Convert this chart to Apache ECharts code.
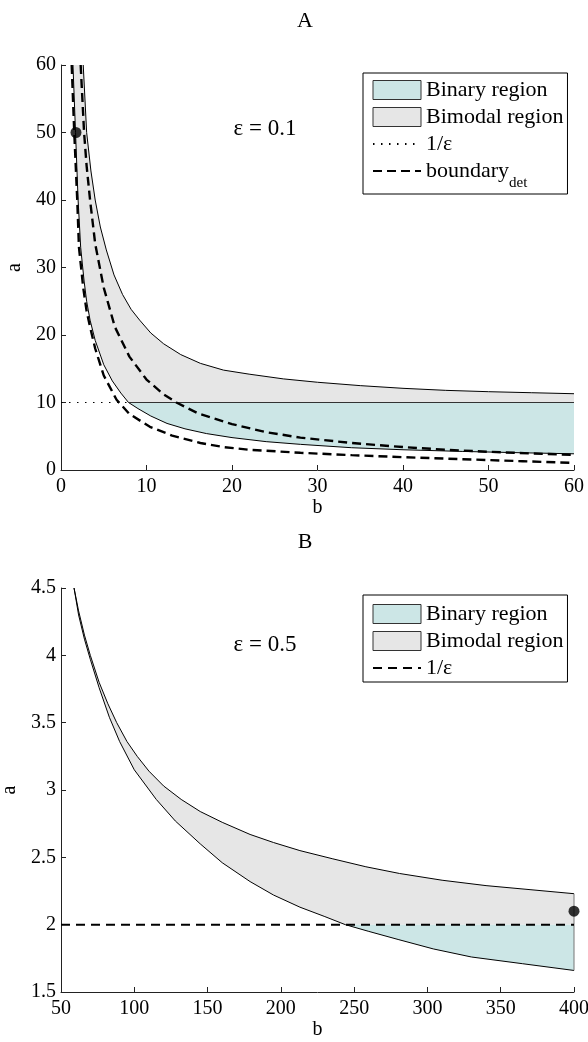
<!DOCTYPE html>
<html>
<head>
<meta charset="utf-8">
<title>Binary and bimodal regions</title>
<script src="https://cdn.jsdelivr.net/npm/echarts@6/dist/echarts.min.js"></script>
<style>
  html, body { margin: 0; padding: 0; background: #fff; }
  #chart { width: 588px; height: 1042px; }
</style>
</head>
<body>
<div id="chart"></div>
<script>
// ---- panel A : eps = 0.1 ----
// upper edge of the bimodal region
const bUpperA = [2.6, 3.0, 3.5, 4.0, 4.6, 5.3, 6.2, 7.2, 8.2, 9.2, 10.5, 12, 14, 16.3, 19, 22, 26, 30, 35, 40, 45, 50, 55, 60]
const aUpperA = [60, 50, 44.3, 40, 36, 32.6, 28.9, 26, 23.8, 22.2, 20.3, 18.7, 17.1, 15.8, 14.8, 14.2, 13.5, 13.0, 12.5, 12.1, 11.8, 11.6, 11.45, 11.3]
// lower edge (bimodal above 1/eps, binary below)
const bLowerA = [1.4, 1.7, 2.0, 2.3, 2.7, 3.0, 3.4, 4.0, 5.0, 6.0, 7.0, 7.9, 9, 10.5, 12.4, 14.5, 17, 20, 24, 28, 34, 40, 47, 54, 60]
const aLowerA = [60, 50, 40, 33, 28, 25, 22.2, 19.2, 15.6, 13.2, 11.4, 10.0, 9.1, 8.0, 6.9, 6.1, 5.4, 4.8, 4.2, 3.8, 3.3, 3.0, 2.75, 2.55, 2.4]
// boundary_det, upper and lower dashed curves
const bDetHiA = [2.3, 2.7, 3.0, 3.4, 4.0, 5.0, 6.3, 8.0, 10, 12, 13.5, 16, 20, 24, 28, 34, 40, 45, 50, 55, 60]
const aDetHiA = [60, 50, 45, 40, 33.5, 27, 21.2, 16.8, 13.4, 11.2, 10.0, 8.4, 6.8, 5.6, 4.8, 4.0, 3.4, 3.0, 2.7, 2.45, 2.25]
const bDetLoA = [1.25, 1.55, 1.9, 2.1, 2.6, 3.0, 3.4, 4.0, 5.0, 6.5, 8.0, 10.4, 13, 16.3, 19, 22, 28, 34, 40, 47, 54, 60]
const aDetLoA = [60, 50, 40, 33, 27, 23.5, 21.2, 18, 14, 10.4, 8.3, 6.4, 5.1, 4.0, 3.4, 3.0, 2.55, 2.2, 1.9, 1.6, 1.3, 1.05]
const invEpsA = 10
const pointA = [1.75, 50]

// ---- panel B : eps = 0.5 ----
const bUpperB = [58.9, 62, 66, 70, 76, 82, 88, 95, 102, 110, 120, 132, 145, 160, 179, 195, 213, 235, 258, 281, 310, 340, 370, 400]
const aUpperB = [4.5, 4.33, 4.15, 4.0, 3.8, 3.64, 3.5, 3.36, 3.25, 3.14, 3.03, 2.93, 2.84, 2.76, 2.67, 2.61, 2.55, 2.49, 2.43, 2.38, 2.33, 2.29, 2.26, 2.23]
const bLowerB = [58.9, 62, 66, 70, 76, 83, 90, 100, 115, 128, 145, 160, 179, 195, 213, 230, 244, 260, 280, 304, 330, 365, 400]
const aLowerB = [4.5, 4.3, 4.12, 3.97, 3.76, 3.54, 3.36, 3.15, 2.93, 2.77, 2.6, 2.46, 2.32, 2.22, 2.13, 2.06, 2.0, 1.95, 1.89, 1.82, 1.76, 1.71, 1.66]
const invEpsB = 2
const pointB = [400, 2.1]

const BINARY = '#cce6e6'
const BIMODAL = '#e6e6e6'
const FONT = 'Liberation Serif'

const pairs = (bs, as) => bs.map((b, i) => [b, as[i]])

// build the two patches of one panel from its curves
function regions(bU, aU, bL, aL, lvl) {
  const upper = pairs(bU, aU)
  const lower = pairs(bL, aL)
  const above = lower.filter(p => p[1] >= lvl)
  const below = lower.filter(p => p[1] <= lvl)
  const bEnd = bU[bU.length - 1]
  const bCross = below[0][0]
  const bimodal = upper.concat([[bEnd, lvl], [bCross, lvl]], above.slice().reverse())
  const binary = [[bCross, lvl], [bEnd, lvl]].concat(below.slice().reverse())
  return { bimodal, binary, bCross, bEnd }
}
const regA = regions(bUpperA, aUpperA, bLowerA, aLowerA, invEpsA)
const regB = regions(bUpperB, aUpperB, bLowerB, aLowerB, invEpsB)

function patch(name, idx, color, pts) {
  return {
    type: 'custom', name: name, xAxisIndex: idx, yAxisIndex: idx,
    data: [pts[0]], silent: true, z: 1,
    itemStyle: { color: color },
    renderItem: (params, api) => ({
      type: 'polygon',
      shape: { points: pts.map(p => api.coord(p)) },
      style: { fill: color }
    })
  }
}
function line(name, idx, data, style, z) {
  return {
    type: 'line', name: name, xAxisIndex: idx, yAxisIndex: idx,
    data: data, symbol: 'none', showSymbol: false, silent: true, z: z || 3,
    itemStyle: { color: '#000' },
    lineStyle: Object.assign({ color: '#000', width: 1 }, style)
  }
}
function dot(idx, p) {
  return {
    type: 'scatter', xAxisIndex: idx, yAxisIndex: idx, data: [p], clip: false,
    symbolSize: 11, itemStyle: { color: '#000' }, silent: true, z: 6
  }
}

function xAx(idx, min, max, step) {
  return {
    gridIndex: idx, type: 'value', min: min, max: max, interval: step,
    name: 'b', nameLocation: 'middle', nameGap: 28,
    nameTextStyle: { fontFamily: FONT, fontSize: 20, color: '#000' },
    axisLine: { onZero: false, lineStyle: { color: '#222', width: 1 } },
    axisTick: { inside: true, length: 5, lineStyle: { color: '#222' } },
    axisLabel: { fontFamily: FONT, fontSize: 20, color: '#000', margin: 7, showMinLabel: true, showMaxLabel: true },
    splitLine: { show: false }
  }
}
function yAx(idx, min, max, step) {
  return {
    gridIndex: idx, type: 'value', min: min, max: max, interval: step,
    name: 'a', nameLocation: 'middle', nameGap: 36, nameRotate: 90,
    nameTextStyle: { fontFamily: FONT, fontSize: 20, color: '#000' },
    axisLine: { show: true, onZero: false, lineStyle: { color: '#222', width: 1 } },
    axisTick: { show: true, inside: true, length: 5, lineStyle: { color: '#222' } },
    axisLabel: { fontFamily: FONT, fontSize: 20, color: '#000', margin: 5, showMinLabel: true, showMaxLabel: true },
    splitLine: { show: false }
  }
}

// lines in the legend: hide the marker, keep the dash
const lineKey = n => ({ name: n, itemStyle: { color: '#000', opacity: 0 } })

function legendBox(top, padTop, names) {
  return {
    orient: 'vertical', left: 363, top: top, selectedMode: false,
    itemWidth: 48, itemHeight: 19, itemGap: 5,
    padding: [padTop, 4, 3, 9], borderColor: '#000', borderWidth: 1, backgroundColor: '#fff',
    data: [
      { name: 'Binary region', icon: 'rect', itemStyle: { color: BINARY, borderColor: '#333', borderWidth: 1 } },
      { name: 'Bimodal region', icon: 'rect', itemStyle: { color: BIMODAL, borderColor: '#333', borderWidth: 1 } }
    ].concat(names.map(lineKey)),
    formatter: n => (n === 'boundary' ? '{n|boundary}{s|det}' : n),
    textStyle: {
      fontFamily: FONT, fontSize: 22, lineHeight: 22, color: '#000',
      rich: {
        n: { fontFamily: FONT, fontSize: 22, lineHeight: 22, verticalAlign: 'top' },
        s: { fontFamily: FONT, fontSize: 15, lineHeight: 15, padding: [16, 0, 0, 0], verticalAlign: 'top' }
      }
    }
  }
}

const txt = (x, y, s, size) => ({
  type: 'text', x: x, y: y, silent: true,
  style: { text: s, fontFamily: FONT, fontSize: size, fill: '#000', align: 'center', verticalAlign: 'middle' }
})

const option = {
  animation: false,
  backgroundColor: '#fff',
  grid: [
    { left: 61, top: 65, width: 513, height: 405, outerBoundsMode: 'none' },
    { left: 61, top: 588, width: 513, height: 404, outerBoundsMode: 'none' }
  ],
  xAxis: [xAx(0, 0, 60, 10), xAx(1, 50, 400, 50)],
  yAxis: [yAx(0, 0, 60, 10), yAx(1, 1.5, 4.5, 0.5)],
  legend: [legendBox(73, 6, ['1/ε', 'boundary']), legendBox(595, 8, ['1/ε '])],
  graphic: [
    txt(305, 21, 'A', 22),
    txt(305, 542, 'B', 22),
    txt(265, 129, 'ε = 0.1', 23),
    txt(265, 645, 'ε = 0.5', 23)
  ],
  series: [
    // panel A
    patch('Bimodal region', 0, BIMODAL, regA.bimodal),
    patch('Binary region', 0, BINARY, regA.binary),
    line('', 0, pairs(bUpperA, aUpperA)),
    line('', 0, pairs(bLowerA, aLowerA)),
    line('', 0, [[regA.bCross, invEpsA], [regA.bEnd, invEpsA]], { color: '#333' }),
    line('1/ε', 0, [[0, invEpsA], [60, invEpsA]], { width: 1.2, type: [1.5, 6.5] }, 2),
    line('boundary', 0, pairs(bDetHiA, aDetHiA), { width: 2.4, type: [9, 5] }, 4),
    line('boundary', 0, pairs(bDetLoA, aDetLoA), { width: 2.4, type: [9, 5] }, 4),
    dot(0, pointA),
    // panel B
    patch('Bimodal region', 1, BIMODAL, regB.bimodal),
    patch('Binary region', 1, BINARY, regB.binary),
    line('', 1, pairs(bUpperB, aUpperB)),
    line('', 1, pairs(bLowerB, aLowerB)),
    line('', 1, [[regB.bEnd, aLowerB[aLowerB.length - 1]], [regB.bEnd, aUpperB[aUpperB.length - 1]]], { color: '#777' }),
    line('1/ε ', 1, [[50, invEpsB], [400, invEpsB]], { width: 2, type: [9, 6] }, 4),
    dot(1, pointB)
  ]
}

const myChart = echarts.init(document.getElementById('chart'))
myChart.setOption(option)
</script>
</body>
</html>
